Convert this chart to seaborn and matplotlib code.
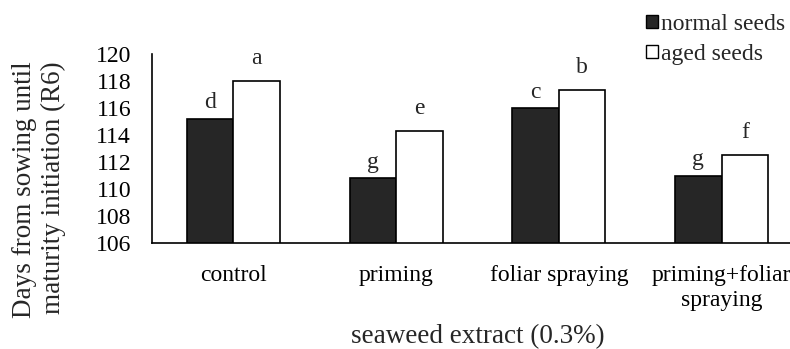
import matplotlib
matplotlib.use("Agg")
import matplotlib.pyplot as plt
import seaborn as sns
import pandas as pd
from matplotlib.patches import Patch

categories = ["control", "priming", "foliar spraying", "priming+foliar\nspraying"]
series = ["normal seeds", "aged seeds"]
normal_values = [115.2, 110.8, 116.0, 111.0]
aged_values = [118.0, 114.3, 117.3, 112.5]
normal_letters = ["d", "g", "c", "g"]
aged_letters = ["a", "e", "b", "f"]
y_ticks = [106, 108, 110, 112, 114, 116, 118, 120]

df = pd.DataFrame({
    "treatment": categories * 2,
    "seed": [series[0]] * 4 + [series[1]] * 4,
    "days": normal_values + aged_values,
})

sns.set_style("white")
plt.rcParams["font.family"] = ["Liberation Serif", "DejaVu Serif"]

fig = plt.figure(figsize=(7.9, 3.49), dpi=100)
ax = fig.add_axes([152 / 790, 1 - 243 / 349, 651 / 790, (243 - 54) / 349])

palette = {series[0]: "#262626", series[1]: "#ffffff"}
sns.barplot(data=df, x="treatment", y="days", hue="seed", order=categories,
            hue_order=series, palette=palette, width=0.572, edgecolor="black",
            linewidth=1.2, ax=ax, legend=False, saturation=1)

ax.set_ylim(106, 120)
ax.set_xlim(-0.5, 3.5)
ax.set_yticks(y_ticks)
ax.set_yticklabels([str(v) for v in y_ticks])
ax.tick_params(axis="both", length=0, labelsize=17, colors="black")
ax.tick_params(axis="y", pad=15)
ax.tick_params(axis="x", pad=15.5)
for t in ax.get_xticklabels():
    t.set_linespacing(1.25)

for side in ["top", "right"]:
    ax.spines[side].set_visible(False)
for side in ["left", "bottom"]:
    ax.spines[side].set_color("black")
    ax.spines[side].set_linewidth(1.2)

ax.set_xlabel("seaweed extract (0.3%)", fontsize=19.5)
ax.xaxis.set_label_coords(0.5, (243 - 324) / 189)
ax.set_ylabel("")

# letters above bars
containers = ax.containers
for cont, letters, off in zip(containers, [normal_letters, aged_letters], [7.5, 12.5]):
    for bar, lab in zip(cont, letters):
        x = bar.get_x() + bar.get_width() / 2
        y = bar.get_height()
        ax.annotate(lab, (x, y), xytext=(0, off), textcoords="offset points",
                    ha="center", va="baseline", fontsize=17)

fig.text(39 / 790, 1 - 61 / 349, "Days from sowing until\nmaturity initiation (R6)",
         rotation=90, ha="center", va="top", multialignment="right", fontsize=19.5,
         linespacing=1.15)

handles = [Patch(facecolor="#262626", edgecolor="black", linewidth=1.0, label=series[0]),
           Patch(facecolor="white", edgecolor="black", linewidth=1.0, label=series[1])]
fig.legend(handles=handles, loc="upper right", bbox_to_anchor=(1.0, 1 - 9 / 349),
           frameon=False, fontsize=17, handlelength=0.5, handleheight=0.5,
           handletextpad=0.15, labelspacing=0.38, borderaxespad=0.1, borderpad=0.1)

fig.savefig("out.png", dpi=100)
